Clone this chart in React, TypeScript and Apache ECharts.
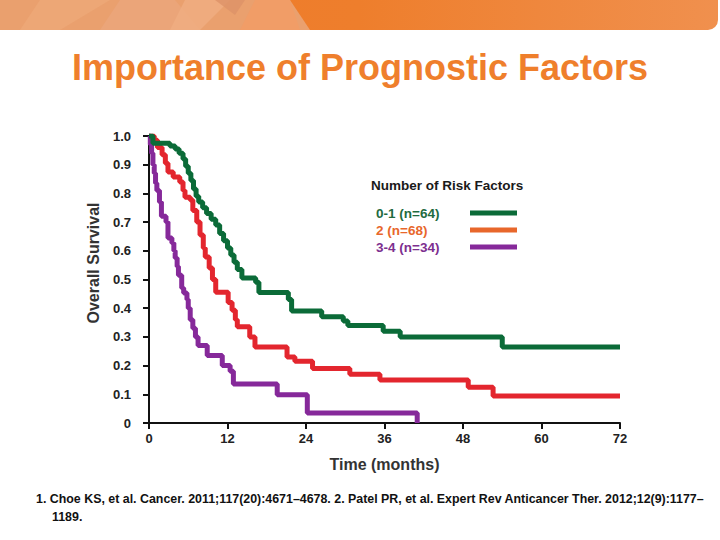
import React, { useEffect, useRef } from "react";
import * as echarts from "echarts";

const xTicks = [0, 12, 24, 36, 48, 60, 72];
const seriesNames = ["0-1 (n=64)", "2 (n=68)", "3-4 (n=34)"];

// Kaplan-Meier steps: [month, survival]
const group01: [number, number][] = [
  [0, 1.0], [0.6, 0.975], [3.2, 0.965], [4.0, 0.955], [4.6, 0.94], [5.2, 0.92],
  [5.6, 0.895], [6.0, 0.87], [6.4, 0.845], [6.8, 0.815], [7.2, 0.79], [7.6, 0.77],
  [8.2, 0.75], [8.8, 0.73], [9.5, 0.71], [10.2, 0.69], [10.8, 0.66], [11.4, 0.635],
  [12.0, 0.61], [12.5, 0.585], [13.0, 0.56], [13.5, 0.535], [14.2, 0.505],
  [16.3, 0.49], [16.8, 0.455], [21.3, 0.43], [21.8, 0.39], [26.4, 0.37],
  [29.7, 0.355], [30.4, 0.34], [35.8, 0.32], [38.4, 0.30], [54.0, 0.265], [72, 0.265],
];
const group2: [number, number][] = [
  [0, 1.0], [0.8, 0.985], [1.3, 0.96], [2.0, 0.935], [2.5, 0.905], [2.9, 0.875],
  [3.7, 0.857], [4.7, 0.84], [5.2, 0.81], [5.5, 0.787], [6.3, 0.777], [6.7, 0.74],
  [7.3, 0.70], [7.8, 0.655], [8.3, 0.61], [8.6, 0.578], [9.2, 0.54], [9.7, 0.50],
  [10.2, 0.456], [12.1, 0.42], [12.7, 0.393], [13.2, 0.36], [13.5, 0.335],
  [15.4, 0.30], [16.2, 0.265], [21.1, 0.23], [22.3, 0.215], [25.0, 0.19],
  [30.7, 0.17], [35.3, 0.15], [48.8, 0.125], [52.6, 0.094], [72, 0.094],
];
const group34: [number, number][] = [
  [0, 1.0], [0.2, 0.97], [0.4, 0.94], [0.6, 0.90], [0.8, 0.87], [1.0, 0.835],
  [1.2, 0.81], [1.6, 0.77], [1.9, 0.72], [2.6, 0.70], [2.9, 0.645], [3.5, 0.627],
  [3.8, 0.60], [4.0, 0.575], [4.3, 0.545], [4.5, 0.515], [5.0, 0.47], [5.3, 0.453],
  [5.8, 0.43], [6.0, 0.40], [6.3, 0.36], [6.7, 0.33], [7.1, 0.30], [7.5, 0.27],
  [8.9, 0.235], [11.2, 0.20], [12.4, 0.18], [12.9, 0.136], [19.6, 0.098],
  [24.2, 0.035], [41.0, 0], [41.0, 0],
];

const curveColors = ["#0B6B38", "#E3262E", "#86299A"];
const legendTextColors = ["#1F6B3F", "#E8672B", "#7D2F8F"];
const legendLineColors = ["#0B6B38", "#E8672B", "#86299A"];

export default function App() {
  const ref = useRef<HTMLDivElement>(null);
  useEffect(() => {
    if (!ref.current) return;
    const chart = echarts.init(ref.current, null, { renderer: "svg" });
    const data = [group01, group2, group34];
    const fontFamily = "Liberation Sans, Arial, sans-serif";
    const footFont = "bold 12.4px 'Liberation Sans Narrow', 'Arial Narrow', sans-serif";

    const legendGraphics: any[] = [
      {
        type: "text",
        left: 371,
        top: 178,
        style: { text: "Number of Risk Factors", fill: "#1a1a1a", font: `bold 13.5px ${fontFamily}` },
      },
    ];
    seriesNames.forEach((n, i) => {
      legendGraphics.push({
        type: "text",
        left: 376,
        top: 206 + i * 17,
        style: { text: n, fill: legendTextColors[i], font: `bold 13.5px ${fontFamily}` },
      });
      legendGraphics.push({
        type: "line",
        shape: { x1: 470, y1: 213 + i * 17, x2: 517, y2: 213 + i * 17 },
        style: { stroke: legendLineColors[i], lineWidth: 5 },
      });
    });

    const banner: any[] = [
      {
        type: "rect",
        shape: { x: 0, y: 0, width: 718, height: 30, r: [0, 0, 10, 0] },
        style: {
          fill: new echarts.graphic.LinearGradient(0, 0, 1, 0, [
            { offset: 0, color: "#EE7A2A" },
            { offset: 0.5, color: "#EE7E2C" },
            { offset: 1, color: "#F0904E" },
          ]),
        },
      },
      {
        type: "polygon",
        shape: { points: [[0, 0], [290, 0], [310, 30], [0, 30]] },
        style: { fill: "#EAA06E" },
      },
      {
        type: "polygon",
        shape: { points: [[40, 0], [110, 0], [60, 30], [20, 30]] },
        style: { fill: "#EDA978", opacity: 0.8 },
      },
      {
        type: "polygon",
        shape: { points: [[120, 0], [175, 0], [200, 30], [100, 30]] },
        style: { fill: "#EBA57A", opacity: 0.9 },
      },
      {
        type: "polygon",
        shape: { points: [[185, 0], [230, 0], [200, 30], [170, 30]] },
        style: { fill: "#F0AE82", opacity: 0.8 },
      },
      {
        type: "polygon",
        shape: { points: [[215, 0], [245, 0], [235, 15]] },
        style: { fill: "#DD9268", opacity: 0.8 },
      },
      {
        type: "polygon",
        shape: { points: [[255, 0], [290, 0], [300, 30], [240, 30]] },
        style: { fill: "#F29C66", opacity: 0.9 },
      },
    ];

    const texts: any[] = [
      {
        type: "text",
        x: 93,
        y: 263,
        rotation: Math.PI / 2,
        style: {
          text: "Overall Survival",
          fill: "#333333",
          font: `bold 16px ${fontFamily}`,
          align: "center",
          verticalAlign: "middle",
        },
      },
      {
        type: "text",
        left: 36,
        top: 493,
        style: {
          text: "1. Choe KS, et al. Cancer. 2011;117(20):4671–4678. 2. Patel PR, et al. Expert Rev Anticancer Ther. 2012;12(9):1177–",
          fill: "#111",
          font: footFont,
        },
      },
      {
        type: "text",
        left: 52,
        top: 511,
        style: { text: "1189.", fill: "#111", font: footFont },
      },
    ];

    chart.setOption({
      animation: false,
      backgroundColor: "#ffffff",
      title: {
        text: "Importance of Prognostic Factors",
        left: "center",
        top: 44,
        textStyle: { color: "#EF7F2C", fontSize: 36, fontWeight: "bold", fontFamily },
      },
      grid: { left: 149, right: 100, top: 136, bottom: 117, containLabel: false },
      xAxis: {
        type: "value",
        min: 0,
        max: 72,
        interval: 12,
        name: "Time (months)",
        nameLocation: "middle",
        nameGap: 33,
        nameTextStyle: { color: "#333333", fontSize: 16, fontWeight: "bold", fontFamily },
        axisLine: { show: true, lineStyle: { color: "#111", width: 2 } },
        axisTick: { show: true, length: 6, lineStyle: { color: "#111", width: 2 } },
        axisLabel: {
          color: "#222",
          fontSize: 13,
          fontWeight: "bold",
          fontFamily,
          margin: 9,
          formatter: (v: number) => (xTicks.includes(v) ? String(v) : ""),
        },
        splitLine: { show: false },
      },
      yAxis: {
        type: "value",
        min: 0,
        max: 1,
        interval: 0.1,
        axisLine: { show: true, lineStyle: { color: "#111", width: 2 } },
        axisTick: { show: true, length: 6, lineStyle: { color: "#111", width: 2 } },
        axisLabel: {
          color: "#222",
          fontSize: 13,
          fontWeight: "bold",
          fontFamily,
          margin: 18,
          formatter: (v: number) => (v === 0 ? "0" : v.toFixed(1)),
        },
        splitLine: { show: false },
      },
      graphic: [...banner, ...legendGraphics, ...texts],
      series: data.map((d, i) => ({
        name: seriesNames[i],
        type: "line",
        step: "end",
        data: d,
        symbol: "none",
        lineStyle: { color: curveColors[i], width: 5 },
        z: 3 - i,
      })),
    });
    return () => chart.dispose();
  }, []);
  return (
    <div
      ref={ref}
      style={{ position: "fixed", left: 0, top: 0, width: 720, height: 540 }}
    />
  );
}
